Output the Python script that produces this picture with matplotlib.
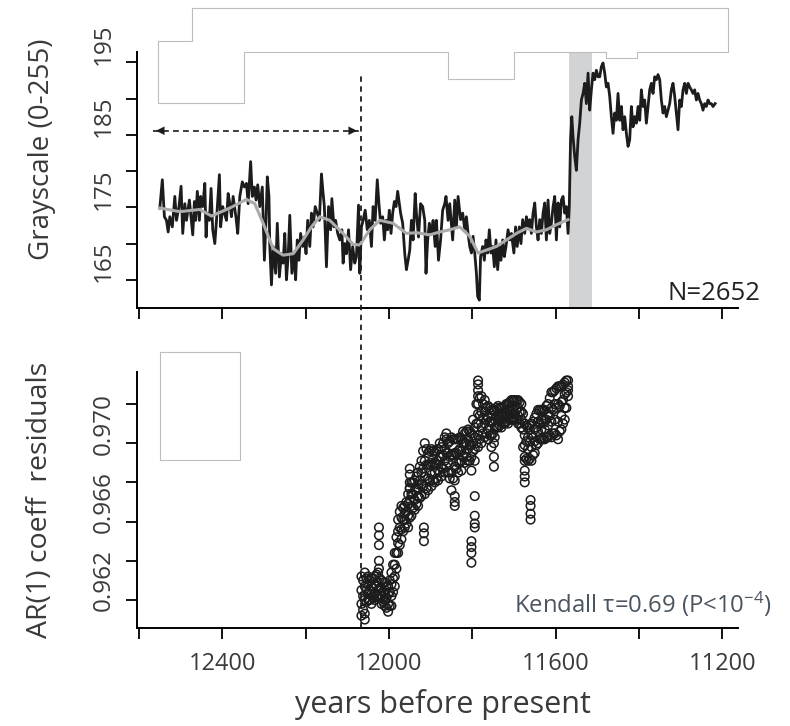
import matplotlib
matplotlib.use("Agg")
import matplotlib.pyplot as plt
import numpy as np
from matplotlib.patches import Rectangle

plt.rcParams['font.family'] = ['Open Sans', 'DejaVu Sans']
plt.rcParams['mathtext.default'] = 'regular'

## grayscale record (year BP, grayscale)
grayscale_record = [
    (12550, 172.4), (12544, 176.3), (12539, 171.2), (12534, 170.7), (12530, 169.1), (12526, 171.2),
    (12520, 169.8), (12514, 174.0), (12510, 170.7), (12504, 172.6), (12499, 175.4), (12495, 168.9),
    (12490, 173.0), (12486, 170.7), (12479, 173.5), (12476, 171.7), (12471, 168.7), (12467, 173.3),
    (12464, 170.7), (12460, 174.7), (12455, 170.7), (12452, 174.0), (12447, 172.6), (12442, 175.8),
    (12439, 168.4), (12436, 171.7), (12431, 170.7), (12427, 175.1), (12423, 169.4), (12418, 167.5),
    (12414, 170.7), (12407, 177.0), (12404, 169.8), (12399, 172.6), (12395, 171.7), (12390, 170.7),
    (12386, 174.4), (12382, 173.0), (12378, 171.2), (12374, 174.0), (12367, 171.0), (12363, 168.9),
    (12358, 174.0), (12352, 176.0), (12347, 175.3), (12342, 175.8), (12338, 173.0), (12332, 178.8),
    (12328, 174.0), (12323, 175.3), (12319, 173.5), (12315, 175.6), (12310, 172.6), (12304, 175.3),
    (12299, 165.2), (12295, 170.7), (12292, 176.7), (12288, 174.0), (12286, 167.1), (12282, 161.8),
    (12278, 167.1), (12272, 163.4), (12268, 170.3), (12263, 162.9), (12258, 166.1), (12254, 164.8),
    (12250, 168.9), (12246, 162.5), (12242, 165.7), (12238, 171.4), (12233, 163.4), (12228, 166.1),
    (12224, 162.5), (12220, 168.0), (12216, 165.2), (12212, 168.9), (12207, 167.1), (12203, 168.4),
    (12199, 166.1), (12195, 170.7), (12190, 167.1), (12186, 171.7), (12182, 169.8), (12177, 172.6),
    (12172, 171.7), (12167, 170.7), (12162, 177.1), (12158, 174.4), (12155, 172.6), (12150, 164.3),
    (12145, 172.6), (12140, 169.4), (12137, 173.7), (12132, 169.8), (12128, 170.7), (12123, 168.9),
    (12118, 168.0), (12113, 169.4), (12110, 164.8), (12106, 167.5), (12102, 166.1), (12097, 169.4),
    (12092, 163.9), (12087, 167.1), (12082, 164.8), (12078, 165.7), (12073, 172.8), (12070, 163.4),
    (12066, 169.8), (12062, 170.7), (12057, 172.1), (12052, 169.4), (12047, 170.7), (12042, 167.1),
    (12038, 172.6), (12033, 170.7), (12028, 176.3), (12024, 173.0), (12020, 170.3), (12015, 171.2),
    (12011, 168.0), (12007, 170.7), (12003, 169.4), (11999, 172.1), (11995, 168.9), (11991, 171.7),
    (11987, 173.3), (11983, 172.6), (11979, 174.7), (11975, 173.0), (11972, 171.7), (11967, 170.3),
    (11962, 166.1), (11958, 163.9), (11954, 165.2), (11950, 166.6), (11946, 170.7), (11942, 168.0),
    (11937, 174.4), (11934, 171.7), (11929, 168.4), (11924, 173.0), (11919, 172.6), (11914, 170.7),
    (11911, 163.4), (11907, 168.0), (11903, 170.3), (11898, 168.9), (11894, 170.7), (11889, 167.1),
    (11886, 170.7), (11881, 165.2), (11876, 168.0), (11871, 172.1), (11866, 173.0), (11863, 174.0),
    (11858, 170.7), (11854, 173.0), (11847, 168.0), (11842, 173.5), (11838, 169.8), (11834, 174.0),
    (11828, 170.8), (11823, 171.7), (11818, 169.4), (11814, 171.2), (11810, 168.9), (11806, 167.1),
    (11802, 166.2), (11798, 168.5), (11794, 166.2), (11790, 163.4), (11787, 160.2), (11783, 159.7),
    (11780, 165.7), (11775, 167.1), (11771, 165.2), (11767, 168.0), (11763, 166.2), (11759, 169.4),
    (11755, 166.2), (11751, 167.1), (11747, 164.3), (11743, 168.0), (11739, 163.9), (11735, 167.1),
    (11731, 165.2), (11727, 168.0), (11723, 165.7), (11719, 167.1), (11714, 169.4), (11710, 168.0),
    (11706, 168.9), (11700, 166.2), (11696, 169.8), (11692, 167.1), (11687, 169.8), (11683, 167.5),
    (11679, 170.8), (11674, 168.9), (11670, 171.2), (11666, 169.8), (11662, 170.8), (11658, 168.9),
    (11654, 171.7), (11650, 173.1), (11646, 169.8), (11642, 168.0), (11638, 170.8), (11634, 168.9),
    (11630, 171.7), (11626, 173.1), (11622, 168.0), (11618, 173.5), (11614, 168.9), (11610, 170.3),
    (11606, 172.6), (11602, 174.0), (11598, 168.0), (11594, 173.1), (11590, 169.8), (11586, 173.5),
    (11582, 174.0), (11578, 171.7), (11574, 172.6), (11570, 168.9), (11567, 172.6), (11564, 181.8),
    (11561, 185.0), (11558, 182.2), (11554, 179.5), (11550, 177.6), (11546, 181.8), (11542, 184.1),
    (11538, 187.3), (11534, 188.2), (11530, 189.6), (11526, 186.8), (11522, 191.0), (11518, 185.9),
    (11514, 188.7), (11510, 191.0), (11506, 190.1), (11502, 191.4), (11498, 190.5), (11494, 190.5),
    (11490, 191.9), (11486, 192.4), (11482, 191.0), (11478, 189.1), (11474, 189.6), (11470, 187.8),
    (11466, 185.0), (11462, 182.7), (11458, 185.5), (11454, 184.5), (11450, 188.2), (11446, 184.5),
    (11442, 186.4), (11438, 183.2), (11434, 185.0), (11430, 182.7), (11426, 180.9), (11422, 181.8),
    (11418, 186.4), (11414, 183.6), (11410, 185.0), (11406, 184.1), (11402, 186.4), (11398, 184.5),
    (11394, 188.7), (11390, 186.4), (11386, 187.3), (11382, 184.1), (11378, 186.4), (11374, 188.7),
    (11370, 189.6), (11366, 188.2), (11362, 190.5), (11358, 190.1), (11354, 190.8), (11350, 190.1),
    (11346, 187.3), (11342, 185.5), (11338, 186.4), (11334, 185.0), (11330, 185.9), (11326, 186.8),
    (11322, 188.7), (11318, 189.6), (11314, 187.8), (11310, 185.5), (11306, 183.2), (11302, 187.3),
    (11298, 186.4), (11294, 188.7), (11290, 189.6), (11286, 188.2), (11282, 189.6), (11278, 189.1),
    (11274, 188.7), (11270, 188.2), (11266, 188.7), (11262, 187.3), (11258, 188.2), (11254, 187.3),
    (11250, 186.8), (11246, 185.9), (11242, 186.8), (11238, 186.4), (11234, 187.3), (11230, 186.8),
    (11226, 186.8), (11222, 186.4), (11217, 186.8),
]

## smoothed trend (grey line)
smooth_record = [
    (12550, 172.4), (12502, 171.9), (12454, 172.2), (12426, 171.3), (12382, 172.4), (12342, 173.6),
    (12322, 173.0), (12302, 170.3), (12278, 166.8), (12254, 165.9), (12230, 166.1), (12206, 168.0),
    (12186, 169.8), (12166, 171.2), (12142, 170.7), (12110, 168.9), (12086, 167.4), (12070, 167.3),
    (12046, 169.4), (12022, 170.7), (11990, 170.3), (11958, 168.9), (11934, 169.0), (11902, 168.7),
    (11878, 169.1), (11854, 169.4), (11830, 169.8), (11806, 168.5), (11786, 166.2), (11766, 166.6),
    (11742, 167.1), (11718, 168.0), (11694, 168.9), (11670, 169.6), (11646, 169.1), (11622, 169.4),
    (11598, 170.1), (11570, 170.8),
]

## AR(1) residuals: each year carries the spread of values seen in the cloud
ar_years = [12066, 12058, 12050, 12042, 12034, 12026, 12018, 12010, 12002, 11994, 11986, 11978,
            11970, 11962, 11954, 11946, 11938, 11930, 11922, 11914, 11906, 11898, 11890, 11882,
            11874, 11866, 11858, 11850, 11842, 11834, 11826, 11818, 11810, 11802, 11794, 11786,
            11778, 11770, 11762, 11754, 11746, 11738, 11730, 11722, 11714, 11706, 11698, 11690,
            11682, 11674, 11666, 11658, 11650, 11642, 11634, 11626, 11618, 11610, 11602, 11594,
            11586, 11578, 11570]
ar_values = [
    [0.9622, 0.9615, 0.9608, 0.9602], [0.9624, 0.9617, 0.9610, 0.9603], [0.9622, 0.9618, 0.9613, 0.9610],
    [0.9621, 0.9617, 0.9613, 0.9608], [0.9622, 0.9618, 0.9613, 0.9610], [0.9624, 0.9619, 0.9615, 0.9612],
    [0.9620, 0.9616, 0.9612, 0.9608], [0.9619, 0.9614, 0.9610, 0.9607], [0.9617, 0.9613, 0.9608, 0.9604],
    [0.9624, 0.9618, 0.9612, 0.9607], [0.9634, 0.9628, 0.9622, 0.9617], [0.9651, 0.9645, 0.9639, 0.9634],
    [0.9658, 0.9652, 0.9646, 0.9641], [0.9658, 0.9654, 0.9651, 0.9647], [0.9664, 0.9659, 0.9653, 0.9647],
    [0.9670, 0.9664, 0.9658, 0.9653], [0.9671, 0.9666, 0.9661, 0.9656], [0.9675, 0.9669, 0.9663, 0.9658],
    [0.9681, 0.9675, 0.9669, 0.9663], [0.9690, 0.9681, 0.9673, 0.9664], [0.9685, 0.9679, 0.9672, 0.9666],
    [0.9687, 0.9680, 0.9674, 0.9668], [0.9685, 0.9680, 0.9675, 0.9670], [0.9687, 0.9681, 0.9676, 0.9671],
    [0.9688, 0.9683, 0.9678, 0.9673], [0.9693, 0.9687, 0.9681, 0.9675], [0.9690, 0.9685, 0.9680, 0.9675],
    [0.9693, 0.9684, 0.9675, 0.9666], [0.9692, 0.9685, 0.9678, 0.9671], [0.9692, 0.9686, 0.9680, 0.9675],
    [0.9692, 0.9686, 0.9681, 0.9676], [0.9695, 0.9690, 0.9685, 0.9680], [0.9697, 0.9692, 0.9687, 0.9681],
    [0.9695, 0.9689, 0.9683, 0.9676], [0.9698, 0.9693, 0.9687, 0.9681], [0.9705, 0.9700, 0.9694, 0.9688],
    [0.9714, 0.9706, 0.9698, 0.9690], [0.9712, 0.9706, 0.9700, 0.9693], [0.9709, 0.9703, 0.9697, 0.9692],
    [0.9707, 0.9701, 0.9694, 0.9688], [0.9707, 0.9702, 0.9698, 0.9693], [0.9709, 0.9705, 0.9702, 0.9698],
    [0.9708, 0.9705, 0.9701, 0.9698], [0.9709, 0.9706, 0.9703, 0.9700], [0.9710, 0.9707, 0.9704, 0.9700],
    [0.9712, 0.9709, 0.9705, 0.9702], [0.9712, 0.9709, 0.9705, 0.9702], [0.9712, 0.9708, 0.9704, 0.9700],
    [0.9710, 0.9706, 0.9702, 0.9698], [0.9700, 0.9694, 0.9689, 0.9683], [0.9698, 0.9693, 0.9687, 0.9681],
    [0.9700, 0.9694, 0.9688, 0.9681], [0.9703, 0.9697, 0.9691, 0.9685], [0.9707, 0.9701, 0.9696, 0.9690],
    [0.9707, 0.9702, 0.9697, 0.9692], [0.9707, 0.9702, 0.9697, 0.9692], [0.9710, 0.9705, 0.9699, 0.9693],
    [0.9716, 0.9708, 0.9701, 0.9693], [0.9717, 0.9710, 0.9702, 0.9695], [0.9719, 0.9710, 0.9701, 0.9692],
    [0.9719, 0.9711, 0.9704, 0.9697], [0.9721, 0.9715, 0.9708, 0.9702], [0.9722, 0.9719, 0.9717, 0.9714],
]
## cloud read a second time, half a column later (fills the dense band)
ar_years_b = [12062, 12054, 12046, 12038, 12030, 12022, 12014, 12006, 11998, 11990, 11982, 11974,
              11966, 11958, 11950, 11942, 11934, 11926, 11918, 11910, 11902, 11894, 11886, 11878,
              11870, 11862, 11854, 11846, 11838, 11830, 11822, 11814, 11806, 11798, 11790, 11782,
              11774, 11766, 11758, 11750, 11742, 11734, 11726, 11718, 11710, 11702, 11694, 11686,
              11678, 11670, 11662, 11654, 11646, 11638, 11630, 11622, 11614, 11606, 11598, 11590,
              11582, 11574]
ar_values_b = [
    [0.9620, 0.9612, 0.9605], [0.9621, 0.9615, 0.9609], [0.9620, 0.9615, 0.9610], [0.9621, 0.9616, 0.9611],
    [0.9623, 0.9617, 0.9612], [0.9621, 0.9616, 0.9611], [0.9619, 0.9614, 0.9609], [0.9617, 0.9611, 0.9606],
    [0.9620, 0.9614, 0.9607], [0.9628, 0.9621, 0.9614], [0.9642, 0.9634, 0.9626], [0.9655, 0.9647, 0.9638],
    [0.9657, 0.9651, 0.9645], [0.9660, 0.9655, 0.9649], [0.9667, 0.9661, 0.9652], [0.9670, 0.9664, 0.9657],
    [0.9673, 0.9667, 0.9659], [0.9678, 0.9671, 0.9662], [0.9686, 0.9677, 0.9668], [0.9687, 0.9679, 0.9667],
    [0.9686, 0.9679, 0.9671], [0.9686, 0.9679, 0.9671], [0.9686, 0.9679, 0.9672], [0.9690, 0.9683, 0.9675],
    [0.9690, 0.9684, 0.9677], [0.9692, 0.9685, 0.9678], [0.9691, 0.9683, 0.9672], [0.9692, 0.9684, 0.9672],
    [0.9692, 0.9685, 0.9677], [0.9693, 0.9687, 0.9680], [0.9696, 0.9690, 0.9683], [0.9696, 0.9690, 0.9683],
    [0.9696, 0.9689, 0.9681], [0.9702, 0.9694, 0.9686], [0.9710, 0.9700, 0.9690], [0.9713, 0.9704, 0.9692],
    [0.9710, 0.9703, 0.9695], [0.9708, 0.9702, 0.9695], [0.9708, 0.9701, 0.9694], [0.9707, 0.9701, 0.9695],
    [0.9708, 0.9703, 0.9698], [0.9708, 0.9703, 0.9699], [0.9708, 0.9704, 0.9700], [0.9710, 0.9705, 0.9701],
    [0.9711, 0.9707, 0.9702], [0.9712, 0.9707, 0.9702], [0.9712, 0.9707, 0.9702], [0.9711, 0.9706, 0.9700],
    [0.9705, 0.9697, 0.9688], [0.9699, 0.9691, 0.9682], [0.9699, 0.9691, 0.9682], [0.9701, 0.9693, 0.9684],
    [0.9705, 0.9698, 0.9689], [0.9707, 0.9700, 0.9692], [0.9707, 0.9700, 0.9692], [0.9709, 0.9702, 0.9693],
    [0.9713, 0.9704, 0.9694], [0.9716, 0.9707, 0.9695], [0.9718, 0.9708, 0.9694], [0.9719, 0.9709, 0.9696],
    [0.9720, 0.9712, 0.9700], [0.9722, 0.9716, 0.9708],
]
## isolated excursions (stacks of circles)
ar_excursions = [
    (12058, [0.9600]),
    (12024, [0.9647, 0.9643, 0.9638, 0.9630, 0.9626]),
    (11950, [0.9677, 0.9674, 0.9670, 0.9667]),
    (11916, [0.9647, 0.9644, 0.9640]),
    (11862, [0.9695]),
    (11842, [0.9663, 0.9660, 0.9658]),
    (11802, [0.9640, 0.9637, 0.9634, 0.9629]),
    (11794, [0.9663, 0.9653, 0.9649, 0.9647]),
    (11786, [0.9722, 0.9720, 0.9717, 0.9714, 0.9710]),
    (11748, [0.9690, 0.9683, 0.9678]),
    (11674, [0.9681, 0.9676, 0.9673, 0.9670]),
    (11660, [0.9661, 0.9658, 0.9654, 0.9651]),
]

## stepped outline above the top panel
box_years = [12473, 11186, 11186, 11405, 11405, 11479, 11479, 11700, 11700, 11858, 11858,
             12348, 12348, 12554, 12554, 12473, 12473]
box_levels = [200.0, 200.0, 193.9, 193.9, 193.05, 193.05, 193.9, 193.9, 190.2, 190.2, 193.9,
              193.9, 186.85, 186.85, 195.4, 195.4, 200.0]

transition_band = (11568, 11513)
tipping_year = 12067
window_years = (12566, 12070)
window_level = 183.06
legend_box_years = (12550, 12358)
legend_box_values = (0.96814, 0.97365)

txt = '#3a3a3a'
x0, x1 = 12604.8, 11150

fig = plt.figure(figsize=(7.9, 7.26), dpi=100)
ax1 = fig.add_axes([0.17342, 0.57562, 0.76709, 0.41749])
ax2 = fig.add_axes([0.17342, 0.13499, 0.76709, 0.39669])

# top panel
gy, gv = zip(*grayscale_record)
sy, sv = zip(*smooth_record)
ax1.fill_between(transition_band, 158.6, 193.9, color='#d2d3d5', lw=0, zorder=1)
ax1.plot(gy, gv, color='#1c1c1c', lw=2.0, zorder=3)
ax1.plot(sy, sv, color='#ababab', lw=2.2, zorder=4)
ax1.plot(box_years, box_levels, color='#bdbdbd', lw=0.8, clip_on=False, zorder=2)
ax1.plot(window_years, [window_level] * 2, color='#1c1c1c', lw=1.2, ls=(0, (3.5, 2.5)))
for tip, tail in [(window_years[0], window_years[0] - 25), (window_years[1], window_years[1] + 25)]:
    ax1.annotate('', xy=(tip, window_level), xytext=(tail, window_level),
                 arrowprops=dict(arrowstyle='-|>,head_length=0.6,head_width=0.3', color='#1c1c1c', lw=0.1))
ax1.set_xlim(x0, x1)
ax1.set_ylim(158.6, 200.4)

# bottom panel
all_y, all_v = [], []
for yr, vals in zip(ar_years + ar_years_b, ar_values + ar_values_b):
    all_y += [yr] * len(vals)
    all_v += vals
for yr, vals in ar_excursions:
    all_y += [yr] * len(vals)
    all_v += vals
ax2.scatter(all_y, all_v, s=38, facecolors='none', edgecolors='#1c1c1c', linewidths=1.1, zorder=3)
ax2.add_patch(Rectangle((legend_box_years[1], legend_box_values[0]),
                        legend_box_years[0] - legend_box_years[1],
                        legend_box_values[1] - legend_box_values[0],
                        fill=False, ec='#bdbdbd', lw=0.8))
ax2.set_xlim(x0, x1)
ax2.set_ylim(0.95957, 0.974265)
ax2.plot([tipping_year] * 2, [0, 1.9316], transform=ax2.get_xaxis_transform(),
         color='#1c1c1c', lw=1.3, ls=(0, (3, 2.5)), clip_on=False, zorder=5)

# axes styling
for ax in (ax1, ax2):
    for s in ('top', 'right'):
        ax.spines[s].set_visible(False)
    ax.spines['left'].set_linewidth(1.4)
    ax.spines['bottom'].set_linewidth(1.4)
    ax.spines['bottom'].set_bounds(x0, 11162)
    ax.set_xticks(np.arange(12600, 11199, -200))
    ax.tick_params(axis='both', which='major', length=8, width=1.3, direction='out')
    ax.tick_params(axis='y', which='minor', length=0, pad=15, labelsize=17.5, labelcolor=txt)
    ax.tick_params(axis='x', labelsize=17, labelcolor=txt, pad=9)

ax1.spines['left'].set_bounds(158.6, 193.9)
ax1.set_xticklabels([])
ax1.set_yticks(np.arange(162.5, 193, 5))
ax1.set_yticklabels([])
ax1.set_yticks([165, 175, 185, 195], minor=True)
ax1.set_yticklabels(['165', '175', '185', '195'], minor=True, rotation=90, va='center')

ax2.spines['left'].set_bounds(0.95957, 0.97263)
ax2.set_xticklabels(['', '12400', '', '12000', '', '11600', '', '11200'])
ax2.set_yticks(np.arange(0.961, 0.9715, 0.002))
ax2.set_yticklabels([])
ax2.set_yticks([0.962, 0.966, 0.970], minor=True)
ax2.set_yticklabels(['0.962', '0.966', '0.970'], minor=True, rotation=90, va='center')

fig.text(42 / 790, 1 - 149 / 726, 'Grayscale (0-255)', rotation=90, ha='center', va='center',
         fontsize=20, color=txt)
fig.text(40 / 790, 1 - 500 / 726, 'AR(1) coeff  residuals', rotation=90, ha='center', va='center',
         fontsize=20.5, color=txt)
fig.text(443 / 790, 1 - 704 / 726, 'years before present', ha='center', va='center',
         fontsize=22, color=txt)
fig.text(760 / 790, 1 - 300 / 726, 'N=2652', ha='right', va='baseline', fontsize=18.5, color='#222222')
fig.text(514 / 790, 1 - 613 / 726, r'Kendall $\tau$=0.69 (P<10$^{-4}$)', ha='left', va='baseline',
         fontsize=17.2, color='#4a5560')

fig.savefig('out.png', dpi=100)
